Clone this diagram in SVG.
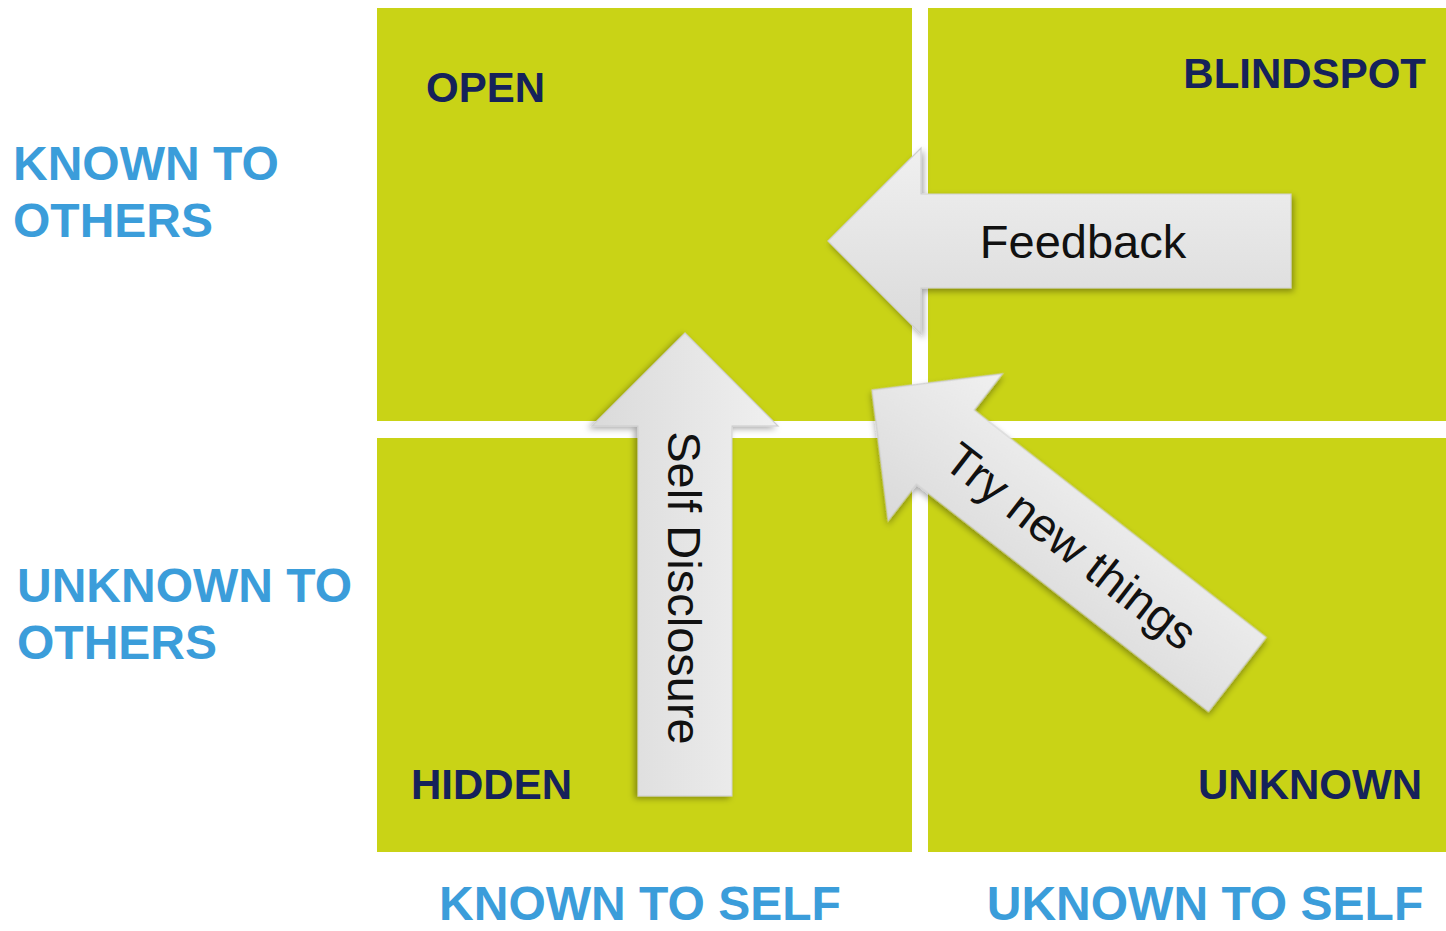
<svg xmlns="http://www.w3.org/2000/svg" width="1446" height="931" viewBox="0 0 1446 931">
  <defs>
    <linearGradient id="arrowGrad" x1="0" y1="0" x2="0" y2="1">
      <stop offset="0" stop-color="#f0f0f0"/>
      <stop offset="1" stop-color="#dadada"/>
    </linearGradient>
    <filter id="shadow" x="-10%" y="-20%" width="125%" height="150%">
      <feDropShadow dx="2" dy="3" stdDeviation="3" flood-color="#000" flood-opacity="0.35"/>
    </filter>
    <path id="arrowShape" d="M0,0 L93,-93 L93,-47 L463,-47 L463,47 L93,47 L93,93 Z"/>
  </defs>
  <style>
    .quad { fill: #c9d316; }
    .axis { font-family: "Liberation Sans", Arial, sans-serif; font-weight: bold; font-size: 48px; fill: #3b9dda; }
    .qlabel { font-family: "Liberation Sans", Arial, sans-serif; font-weight: bold; font-size: 42px; fill: #15225a; }
    .arrow { fill: url(#arrowGrad); stroke: #cfcfcf; stroke-width: 1.2; filter: url(#shadow); }
    .atext { font-family: "Liberation Sans", Arial, sans-serif; font-size: 47px; fill: #111; text-anchor: middle; }
  </style>
  <rect width="1446" height="931" fill="#ffffff"/>

  <g id="quadrant-open">
    <rect class="quad" x="377" y="8" width="535" height="413"/>
    <text class="qlabel" x="426" y="102">OPEN</text>
  </g>
  <g id="quadrant-blindspot">
    <rect class="quad" x="928" y="8" width="518" height="413"/>
    <text class="qlabel" x="1426" y="88" text-anchor="end">BLINDSPOT</text>
  </g>
  <g id="quadrant-hidden">
    <rect class="quad" x="377" y="438" width="535" height="414"/>
    <text class="qlabel" x="411" y="799">HIDDEN</text>
  </g>
  <g id="quadrant-unknown">
    <rect class="quad" x="928" y="438" width="518" height="414"/>
    <text class="qlabel" x="1422" y="799" text-anchor="end">UNKNOWN</text>
  </g>

  <g id="label-known-to-others">
    <text class="axis" x="13" y="180">KNOWN TO</text>
    <text class="axis" x="13" y="237">OTHERS</text>
  </g>
  <g id="label-unknown-to-others">
    <text class="axis" x="17" y="602">UNKNOWN TO</text>
    <text class="axis" x="17" y="659">OTHERS</text>
  </g>
  <g id="label-known-to-self">
    <text class="axis" x="640" y="920" text-anchor="middle" font-size="47">KNOWN TO SELF</text>
  </g>
  <g id="label-unknown-to-self">
    <text class="axis" x="1205" y="920" text-anchor="middle" font-size="47">UKNOWN TO SELF</text>
  </g>

  <g id="connectors">
    <g id="arrow-feedback" transform="translate(828,241)">
      <use href="#arrowShape" class="arrow"/>
      <text class="atext" x="255" y="17">Feedback</text>
    </g>
    <g id="arrow-self-disclosure" transform="translate(685,333) rotate(90)">
      <use href="#arrowShape" class="arrow"/>
      <text class="atext" x="255" y="17">Self Disclosure</text>
    </g>
    <g id="arrow-try-new-things" transform="translate(872,390) rotate(37.9)">
      <use href="#arrowShape" class="arrow"/>
      <text class="atext" x="253" y="17">Try new things</text>
    </g>
  </g>
</svg>
